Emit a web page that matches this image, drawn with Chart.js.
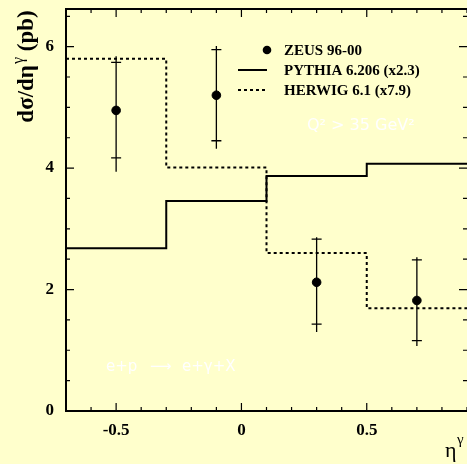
<!DOCTYPE html>
<html>
<head>
<meta charset="utf-8">
<script src="https://cdn.jsdelivr.net/npm/chart.js@4/dist/chart.umd.min.js"></script>
<style>
  html, body { margin: 0; padding: 0; background: #ffffcc; overflow: hidden; }
  canvas { display: block; }
</style>
</head>
<body>
<canvas id="c" width="467" height="464"></canvas>
<script>
// Photon pseudorapidity bins and model predictions (step histograms)
const binEdges = [-0.7, -0.3, 0.1, 0.5, 0.9];
const pythia = [2.68, 3.46, 3.87, 4.07];
const herwig = [5.80, 4.01, 2.60, 1.69];

// Measured cross sections with statistical and total uncertainties
const etaPoints = [-0.5, -0.1, 0.3, 0.7];
const zeus = [4.95, 5.20, 2.12, 1.82];
const statHigh = [5.74, 5.95, 2.83, 2.49];
const statLow = [4.17, 4.45, 1.43, 1.16];
const totHigh = [5.84, 6.01, 2.86, 2.53];
const totLow = [3.94, 4.32, 1.30, 1.07];

const xTicks = [-0.5, 0, 0.5];
const yTicks = [0, 2, 4, 6];
const seriesLabels = ['ZEUS 96-00', 'PYTHIA 6.206 (x2.3)', 'HERWIG 6.1 (x7.9)'];

const SERIF = '"Liberation Serif", "Times New Roman", serif';
const SANS = '"DejaVu Sans", sans-serif';

function histPoints(vals) {
  return binEdges.map((e, i) => ({ x: e, y: vals[Math.min(i, vals.length - 1)] }));
}

const decorations = {
  id: 'decorations',
  beforeDraw(chart) {
    const ctx = chart.ctx;
    ctx.save();
    ctx.fillStyle = '#ffffcc';
    ctx.fillRect(0, 0, chart.width, chart.height);
    ctx.restore();
  },
  beforeDatasetsDraw(chart) {
    const ctx = chart.ctx;
    const xs = chart.scales.x, ys = chart.scales.y;
    ctx.save();
    ctx.strokeStyle = '#000';
    ctx.lineWidth = 1.3;
    etaPoints.forEach((x, i) => {
      const px = xs.getPixelForValue(x);
      ctx.beginPath();
      ctx.moveTo(px, ys.getPixelForValue(totHigh[i]));
      ctx.lineTo(px, ys.getPixelForValue(totLow[i]));
      [statHigh[i], statLow[i]].forEach(v => {
        const py = ys.getPixelForValue(v);
        ctx.moveTo(px - 5, py);
        ctx.lineTo(px + 5, py);
      });
      ctx.stroke();
    });
    ctx.restore();
  },
  afterDatasetsDraw(chart) {
    const ctx = chart.ctx;
    const a = chart.chartArea;
    const xs = chart.scales.x, ys = chart.scales.y;
    ctx.save();
    ctx.strokeStyle = '#000';
    ctx.fillStyle = '#000';

    // frame: left, bottom and top edges (right edge falls at the canvas border)
    ctx.lineWidth = 2;
    ctx.beginPath();
    ctx.moveTo(a.right + 2, a.top);
    ctx.lineTo(a.left, a.top);
    ctx.lineTo(a.left, a.bottom);
    ctx.lineTo(a.right + 2, a.bottom);
    ctx.stroke();

    // ticks on all four sides
    ctx.lineWidth = 1.2;
    ctx.beginPath();
    for (let k = -7; k <= 9; k++) {
      const px = xs.getPixelForValue(k / 10);
      const len = (k % 5 === 0) ? 8 : 4;
      ctx.moveTo(px, a.bottom); ctx.lineTo(px, a.bottom - len);
      ctx.moveTo(px, a.top); ctx.lineTo(px, a.top + len);
    }
    for (let k = 0; k <= 13; k++) {
      const py = ys.getPixelForValue(k / 2);
      const len = (k % 4 === 0) ? 8 : 4;
      ctx.moveTo(a.left, py); ctx.lineTo(a.left + len, py);
      ctx.moveTo(a.right, py); ctx.lineTo(a.right - len, py);
    }
    ctx.stroke();

    // legend
    const lx0 = 238, lx1 = 267, tx = 284;
    ctx.beginPath();
    ctx.arc(267, 50, 4.3, 0, Math.PI * 2);
    ctx.fill();
    ctx.lineWidth = 2;
    ctx.beginPath();
    ctx.moveTo(lx0, 70); ctx.lineTo(lx1, 70);
    ctx.stroke();
    ctx.setLineDash([3, 3]);
    ctx.beginPath();
    ctx.moveTo(lx0, 90); ctx.lineTo(lx1, 90);
    ctx.stroke();
    ctx.setLineDash([]);
    ctx.font = 'bold 15px ' + SERIF;
    ctx.textBaseline = 'middle';
    ctx.textAlign = 'left';
    ctx.fillText(seriesLabels[0], tx, 51);
    ctx.fillText(seriesLabels[1], tx, 71);
    ctx.fillText(seriesLabels[2], tx, 91);

    // process / cut annotations
    ctx.fillStyle = '#ffffff';
    ctx.font = '16px ' + SANS;
    ctx.fillText('Q\u00b2 > 35 GeV\u00b2', 307, 126);
    ctx.font = '15px ' + SANS;
    ctx.fillText('e+p', 106, 367);
    ctx.fillText('\u27f6', 150, 367);
    ctx.fillText('e+\u03b3+X', 182, 367);

    // x-axis title
    ctx.fillStyle = '#000';
    ctx.textBaseline = 'alphabetic';
    ctx.font = '22px ' + SERIF;
    ctx.fillText('\u03b7', 445, 457);
    ctx.font = '15px ' + SERIF;
    ctx.fillText('\u03b3', 457, 444);

    // y-axis title (rotated)
    ctx.translate(33, 67);
    ctx.rotate(-Math.PI / 2);
    const big = 'bold 23px ' + SERIF, small = '16px ' + SERIF;
    const p1 = 'd\u03c3/d\u03b7', p2 = '\u03b3', p3 = ' (pb)';
    ctx.font = big; const w1 = ctx.measureText(p1).width, w3 = ctx.measureText(p3).width;
    ctx.font = small; const w2 = ctx.measureText(p2).width;
    let x = -(w1 + w2 + w3) / 2;
    ctx.font = big; ctx.fillText(p1, x, 0); x += w1;
    ctx.font = small; ctx.fillText(p2, x + 1, -10); x += w2 + 1;
    ctx.font = big; ctx.fillText(p3, x, 0);
    ctx.restore();
  }
};

new Chart(document.getElementById('c'), {
  type: 'scatter',
  data: {
    datasets: [
      {
        label: seriesLabels[0],
        data: etaPoints.map((x, i) => ({ x: x, y: zeus[i] })),
        pointRadius: 4.3,
        pointBackgroundColor: '#000',
        pointBorderColor: '#000',
        showLine: false
      },
      {
        label: seriesLabels[1],
        type: 'line',
        data: histPoints(pythia),
        stepped: 'before',
        borderColor: '#000',
        borderWidth: 2,
        pointRadius: 0,
        fill: false
      },
      {
        label: seriesLabels[2],
        type: 'line',
        data: histPoints(herwig),
        stepped: 'before',
        borderColor: '#000',
        borderWidth: 2,
        borderDash: [3, 3],
        pointRadius: 0,
        fill: false
      }
    ]
  },
  options: {
    responsive: false,
    animation: false,
    devicePixelRatio: 1,
    layout: { autoPadding: false, padding: { top: 9, right: 0, left: 0, bottom: 0 } },
    plugins: { legend: { display: false }, tooltip: { enabled: false } },
    scales: {
      x: {
        type: 'linear', min: -0.7, max: 0.9,
        grid: { display: false, drawTicks: false },
        border: { display: false },
        afterFit(s) { s.height = 53; s.paddingLeft = 0; s.paddingRight = 0; },
        afterBuildTicks(s) { s.ticks = xTicks.map(v => ({ value: v })); },
        ticks: {
          font: { family: SERIF, weight: 'bold', size: 17 },
          color: '#000', padding: 9, maxRotation: 0, autoSkip: false,
          callback: v => String(v)
        }
      },
      y: {
        type: 'linear', min: 0, max: 6.62,
        grid: { display: false, drawTicks: false },
        border: { display: false },
        afterFit(s) { s.width = 66; s.paddingTop = 0; s.paddingBottom = 0; },
        afterBuildTicks(s) { s.ticks = yTicks.map(v => ({ value: v })); },
        ticks: {
          font: { family: SERIF, weight: 'bold', size: 17 },
          color: '#000', padding: 12, autoSkip: false,
          callback: v => String(v)
        }
      }
    }
  },
  plugins: [decorations]
});
</script>
</body>
</html>
